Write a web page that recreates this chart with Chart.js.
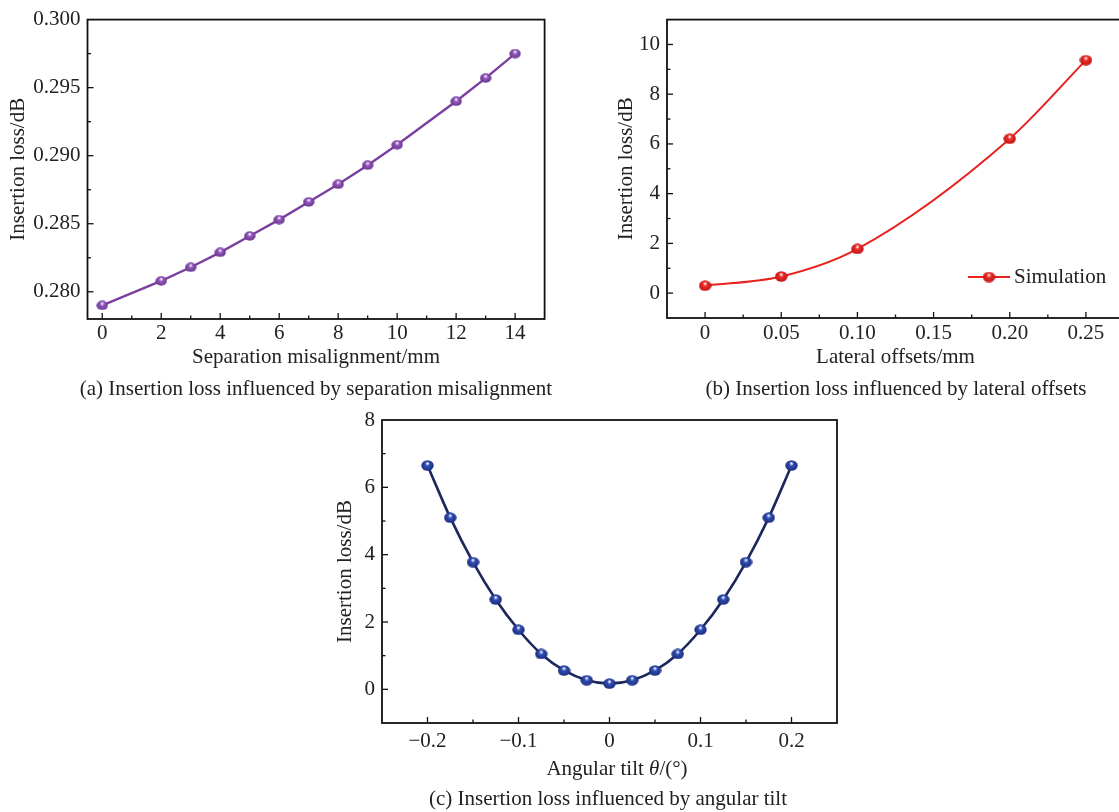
<!DOCTYPE html>
<html>
<head>
<meta charset="utf-8">
<script src="https://cdn.jsdelivr.net/npm/chart.js"></script>
<style>
  html, body { margin: 0; padding: 0; background: #fff; overflow: hidden; }
  body { width: 1119px; height: 812px; position: relative; }
  canvas { position: absolute; }
  .cap {
    position: absolute; white-space: nowrap; line-height: 1;
    font-family: 'Liberation Serif', 'Times New Roman', serif; font-size: 21px; color: #222;
    transform: translate(-50%, -50%);
  }
</style>
</head>
<body>
<canvas id="chartA" width="560" height="400" style="left:0px;top:0px"></canvas>
<canvas id="chartB" width="600" height="400" style="left:560px;top:0px"></canvas>
<canvas id="chartC" width="520" height="412" style="left:330px;top:400px"></canvas>
<div class="cap" style="left:316px;top:388px">(a) Insertion loss influenced by separation misalignment</div>
<div class="cap" style="left:896px;top:388px">(b) Insertion loss influenced by lateral offsets</div>
<div class="cap" style="left:617px;top:768px">Angular tilt <i>θ</i>/(°)</div>
<div class="cap" style="left:608px;top:798px">(c) Insertion loss influenced by angular tilt</div>
<script>
// (a) separation misalignment
const sepX = [0, 2, 3, 4, 5, 6, 7, 8, 9, 10, 12, 13, 14];
const sepLoss = [0.2790, 0.2808, 0.2818, 0.2829, 0.2841, 0.2853, 0.2866, 0.2879, 0.2893, 0.2908, 0.2940, 0.2957, 0.2975];
const sepTicksX = [0, 2, 4, 6, 8, 10, 12, 14];
const sepTicksY = [0.280, 0.285, 0.290, 0.295, 0.300];

// (b) lateral offsets
const latX = [0, 0.05, 0.10, 0.20, 0.25];
const latLoss = [0.30, 0.67, 1.78, 6.21, 9.37];
const latTicksX = [0, 0.05, 0.10, 0.15, 0.20, 0.25];
const latTicksY = [0, 2, 4, 6, 8, 10];

// (c) angular tilt
const tiltX = [-0.2, -0.175, -0.15, -0.125, -0.1, -0.075, -0.05, -0.025, 0,
               0.025, 0.05, 0.075, 0.1, 0.125, 0.15, 0.175, 0.2];
const tiltLoss = [6.65, 5.10, 3.78, 2.67, 1.77, 1.05, 0.56, 0.27, 0.17,
                  0.27, 0.56, 1.05, 1.77, 2.67, 3.78, 5.10, 6.65];
const tiltTicksX = [-0.2, -0.1, 0, 0.1, 0.2];
const tiltTicksY = [0, 2, 4, 6, 8];

Chart.defaults.font.family = "'Liberation Serif', 'Times New Roman', serif";
Chart.defaults.font.size = 21;
Chart.defaults.color = '#222';

// shaded ball marker
function makeBall(base, dark, w, h) {
  const c = document.createElement('canvas');
  c.width = w; c.height = h;
  const g = c.getContext('2d');
  const grad = g.createRadialGradient(w * 0.5, h * 0.3, 0.3, w * 0.5, h * 0.5, w * 0.55);
  grad.addColorStop(0, '#ffffff');
  grad.addColorStop(0.28, base);
  grad.addColorStop(1, dark);
  g.fillStyle = grad;
  g.beginPath();
  g.ellipse(w / 2, h / 2, w / 2 - 0.3, h / 2 - 0.3, 0, 0, Math.PI * 2);
  g.fill();
  return c;
}

// box frame with inward major/minor ticks on left and bottom
const framePlugin = {
  id: 'frame',
  afterDraw(chart, args, opts) {
    const { ctx, chartArea: a, scales: { x, y } } = chart;
    ctx.save();
    ctx.strokeStyle = '#111';
    ctx.lineWidth = 1.8;
    ctx.strokeRect(a.left, a.top, a.right - a.left, a.bottom - a.top);
    ctx.lineWidth = 1.3;
    function marks(scale, step, horiz) {
      const majors = scale.ticks.map(t => t.value);
      const tickAt = (v, len) => {
        const p = scale.getPixelForValue(v);
        ctx.beginPath();
        if (horiz) { ctx.moveTo(p, a.bottom); ctx.lineTo(p, a.bottom - len); }
        else { ctx.moveTo(a.left, p); ctx.lineTo(a.left + len, p); }
        ctx.stroke();
      };
      majors.forEach(v => { if (v > scale.min + 1e-9 && v < scale.max - 1e-9) tickAt(v, 6); });
      for (let k = Math.ceil(scale.min / step - 1e-6); k <= Math.floor(scale.max / step + 1e-6); k++) {
        const v = k * step;
        if (Math.abs(v - scale.min) < step * 0.05 || Math.abs(v - scale.max) < step * 0.05) continue;
        if (majors.some(m => Math.abs(m - v) < step * 0.05)) continue;
        tickAt(v, 3.5);
      }
    }
    marks(x, opts.xMinor, true);
    marks(y, opts.yMinor, false);
    ctx.restore();
  }
};

function panel(id, p) {
  return new Chart(document.getElementById(id), {
    type: 'line',
    data: {
      datasets: [{
        label: p.label,
        data: p.xs.map((v, i) => ({ x: v, y: p.ys[i] })),
        borderColor: p.line,
        borderWidth: p.lw,
        tension: p.tension,
        cubicInterpolationMode: p.mode,
        pointStyle: p.ball,
        pointRadius: 5,
        fill: false
      }]
    },
    options: {
      responsive: false,
      animation: false,
      devicePixelRatio: 1,
      layout: { padding: p.pad },
      plugins: {
        legend: { display: false },
        tooltip: { enabled: false },
        frame: { xMinor: p.xMinor, yMinor: p.yMinor }
      },
      scales: {
        x: {
          type: 'linear', min: p.xr[0], max: p.xr[1],
          afterBuildTicks: s => { s.ticks = p.xt.map(v => ({ value: v })); },
          afterFit: s => { s.height = p.xh; },
          grid: { display: false, drawTicks: false },
          border: { display: false },
          ticks: { padding: p.xpad, autoSkip: false, maxRotation: 0, callback: p.xfmt },
          title: { display: !!p.xtitle, text: p.xtitle, padding: 0 }
        },
        y: {
          type: 'linear', min: p.yr[0], max: p.yr[1],
          afterBuildTicks: s => { s.ticks = p.yt.map(v => ({ value: v })); },
          afterFit: s => { s.width = p.yw; },
          grid: { display: false, drawTicks: false },
          border: { display: false },
          ticks: { padding: 7, autoSkip: false, callback: p.yfmt },
          title: { display: true, text: 'Insertion loss/dB', padding: 0 }
        }
      }
    },
    plugins: [framePlugin].concat(p.extra || [])
  });
}

const legendB = {
  id: 'legendB',
  afterDraw(chart) {
    const { ctx, chartArea: a } = chart;
    const ds = chart.data.datasets[0];
    const x0 = a.left + 301, y0 = a.bottom - 41;
    ctx.save();
    ctx.strokeStyle = ds.borderColor;
    ctx.lineWidth = 2;
    ctx.beginPath(); ctx.moveTo(x0, y0); ctx.lineTo(x0 + 42, y0); ctx.stroke();
    const b = ds.pointStyle;
    ctx.drawImage(b, x0 + 21 - b.width / 2, y0 - b.height / 2);
    ctx.fillStyle = '#222';
    ctx.font = "21px 'Liberation Serif', serif";
    ctx.textBaseline = 'middle';
    ctx.fillText(ds.label, x0 + 46, y0);
    ctx.restore();
  }
};

const minusFmt = v => v === 0 ? '0' : (v < 0 ? '\u2212' : '') + Math.abs(v).toFixed(1);

panel('chartA', {
  label: 'Simulation', xs: sepX, ys: sepLoss,
  line: '#7b3f9f', lw: 2.4, tension: 0, mode: 'default',
  ball: makeBall('#9157bd', '#5e2a80', 12, 10),
  pad: { left: 5.4, top: 16, right: 15.4, bottom: 30.4 }, yw: 82.1, xh: 50.6, xpad: 2,
  xr: [-0.5, 15], yr: [0.278, 0.300], xt: sepTicksX, yt: sepTicksY,
  xMinor: 1, yMinor: 0.0025,
  xfmt: v => String(v), yfmt: v => v.toFixed(3),
  xtitle: 'Separation misalignment/mm'
});

panel('chartB', {
  label: 'Simulation', xs: latX, ys: latLoss,
  line: '#e8221e', lw: 2, tension: 0.4, mode: 'monotone',
  ball: makeBall('#ee2b26', '#b01010', 13, 11),
  pad: { left: 53.4, top: 16, right: 36, bottom: 30.4 }, yw: 53.6, xh: 51.6, xpad: 2.4,
  xr: [-0.025, 0.275], yr: [-1, 11], xt: latTicksX, yt: latTicksY,
  xMinor: 0.025, yMinor: 1,
  xfmt: v => v === 0 ? '0' : v.toFixed(2), yfmt: v => String(v),
  xtitle: 'Lateral offsets/mm',
  extra: [legendB]
});

panel('chartC', {
  label: 'Simulation', xs: tiltX, ys: tiltLoss,
  line: '#1c275c', lw: 2.6, tension: 0.4, mode: 'monotone',
  ball: makeBall('#2f4cb4', '#17256e', 13, 11),
  pad: { left: 2.4, top: 20, right: 13, bottom: 59 }, yw: 49.6, xh: 30, xpad: 5.4,
  xr: [-0.25, 0.25], yr: [-1, 8], xt: tiltTicksX, yt: tiltTicksY,
  xMinor: 0.05, yMinor: 1,
  xfmt: minusFmt, yfmt: v => String(v),
  xtitle: ''
});
</script>
</body>
</html>
